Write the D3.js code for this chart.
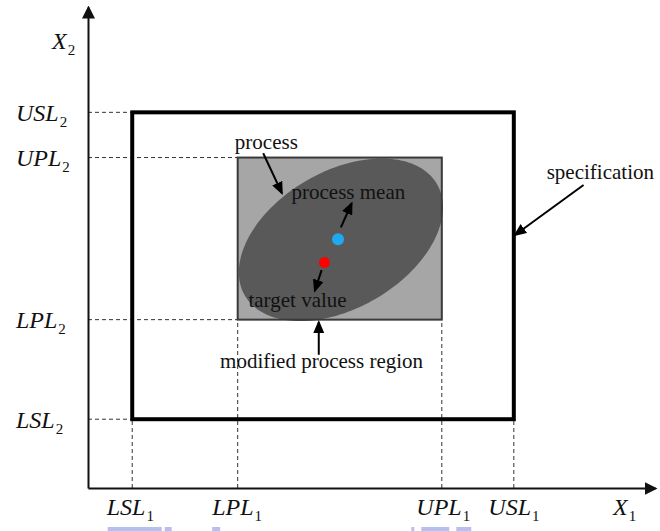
<!DOCTYPE html>
<html>
<head>
<meta charset="utf-8">
<script src="https://cdn.jsdelivr.net/npm/d3@7"></script>
<style>
  html, body { margin: 0; padding: 0; background: #fff; }
  svg { display: block; }
  svg text { font-family: "Liberation Serif", "DejaVu Serif", "Times New Roman", serif; }
</style>
</head>
<body>
<svg id="chart" width="660" height="531"></svg>
<script>
// Tolerance limits for the first quality characteristic X1
const x1Names = ["LSL", "LPL", "UPL", "USL"];
const x1Limits = [0.78, 2.64, 6.24, 7.51];
// Tolerance limits for the second quality characteristic X2
const x2Names = ["LSL", "LPL", "UPL", "USL"];
const x2Limits = [1.43, 3.50, 6.87, 7.81];

// Process contour (bivariate, correlated) and the two reference points
const processCenter = [4.46, 5.16];
const processSpread = [1.80, 1.69];
const processCorrelation = 0.40;
const processMean = [4.41, 5.17];
const targetValue = [4.17, 4.69];

// Annotations: text, baseline anchor, and pointer arrows (tail -> head)
const noteTexts = ["process", "process mean", "target value", "modified process region", "specification"];
const noteAnchors = [[2.59, 7.05], [3.59, 6.01], [2.83, 3.77], [2.33, 2.49], [8.09, 6.42]];
const pointerFrom = [[3.09, 6.96], [4.46, 5.42], [4.12, 4.53], [4.07, 2.77], [8.74, 6.30]];
const pointerTo   = [[3.42, 6.13], [4.65, 5.92], [4.00, 4.10], [4.07, 3.45], [7.53, 5.26]];

const svg = d3.select("#chart");
const x = d3.scaleLinear().domain([0, 10]).range([88, 655]);
const y = d3.scaleLinear().domain([0, 10]).range([488, 7]);
const serif = "Liberation Serif, DejaVu Serif, Times New Roman, serif";

// Arrowhead markers
const defs = svg.append("defs");
defs.append("marker")
  .attr("id", "axisHead").attr("markerUnits", "userSpaceOnUse")
  .attr("viewBox", "0 0 13 13").attr("refX", 11).attr("refY", 6.5)
  .attr("markerWidth", 13).attr("markerHeight", 13).attr("orient", "auto")
  .append("path").attr("d", "M0,0L13,6.5L0,13Z").attr("fill", "#111");
defs.append("marker")
  .attr("id", "pointerHead").attr("markerUnits", "userSpaceOnUse")
  .attr("viewBox", "0 0 13 11").attr("refX", 11).attr("refY", 5.5)
  .attr("markerWidth", 13).attr("markerHeight", 11).attr("orient", "auto")
  .append("path").attr("d", "M0,0L13,5.5L0,11Z").attr("fill", "#000");

// Dashed guides from the axes to the rectangles
const guides = svg.append("g")
  .attr("stroke", "#333").attr("stroke-width", 1).attr("stroke-dasharray", "4,3").attr("fill", "none");
x1Limits.forEach((v, i) => {
  const top = (i === 0 || i === 3) ? x2Limits[0] : x2Limits[1];
  guides.append("line").attr("x1", x(v)).attr("x2", x(v)).attr("y1", y(0)).attr("y2", y(top));
});
x2Limits.forEach((v, i) => {
  const right = (i === 0 || i === 3) ? x1Limits[0] : x1Limits[1];
  guides.append("line").attr("x1", x(0)).attr("x2", x(right)).attr("y1", y(v)).attr("y2", y(v));
});

// Modified process region (rectangle bounded by the process limits)
const procRect = {
  x: x(x1Limits[1]), y: y(x2Limits[2]),
  w: x(x1Limits[2]) - x(x1Limits[1]), h: y(x2Limits[1]) - y(x2Limits[2])
};
svg.append("rect")
  .attr("x", procRect.x).attr("y", procRect.y).attr("width", procRect.w).attr("height", procRect.h)
  .attr("fill", "#a6a6a6");

// Process contour ellipse
const rho = processCorrelation;
const contour = d3.range(0, 180).map(k => {
  const t = k / 180 * 2 * Math.PI;
  return [
    processCenter[0] + processSpread[0] * Math.cos(t),
    processCenter[1] + processSpread[1] * (rho * Math.cos(t) + Math.sqrt(1 - rho * rho) * Math.sin(t))
  ];
});
svg.append("path")
  .datum(contour)
  .attr("d", d3.line().x(d => x(d[0])).y(d => y(d[1])).curve(d3.curveLinearClosed))
  .attr("fill", "#595959");

svg.append("rect")
  .attr("x", procRect.x).attr("y", procRect.y).attr("width", procRect.w).attr("height", procRect.h)
  .attr("fill", "none").attr("stroke", "#3a3a3a").attr("stroke-width", 2);

// Specification rectangle
svg.append("rect")
  .attr("x", x(x1Limits[0])).attr("y", y(x2Limits[3]))
  .attr("width", x(x1Limits[3]) - x(x1Limits[0]))
  .attr("height", y(x2Limits[0]) - y(x2Limits[3]))
  .attr("fill", "none").attr("stroke", "#000").attr("stroke-width", 4);

// Axes with limit labels (italic symbol, upright subscript)
function limitLabel(sel, name, sub) {
  sel.append("tspan").text(name);
  sel.append("tspan").style("font-size", "15px").style("font-style", "normal")
    .attr("dx", 1).attr("dy", 6).text(sub);
}
function styleLabel(t) {
  return t.style("font-family", serif).style("font-style", "italic")
    .style("font-size", "24px").attr("fill", "#111");
}

// Faint highlight strokes sitting under some of the X1 labels
const highlightBits = [[[1, 54], [58, 7]], [[0, 8]], [[-5, 3], [5, 28], [40, 15]], []];

const gx = svg.append("g").attr("transform", `translate(0,${y(0)})`)
  .call(d3.axisBottom(x).tickValues(x1Limits).tickSize(0).tickSizeOuter(0).tickFormat(() => ""));
gx.attr("font-family", null);
gx.select(".domain").attr("stroke", "#111").attr("stroke-width", 2).attr("marker-end", "url(#axisHead)");
gx.selectAll(".tick text").remove();
gx.selectAll(".tick").each(function (d) {
  const i = x1Limits.indexOf(d);
  const tick = d3.select(this);
  highlightBits[i].forEach(([dx, w]) => {
    tick.append("rect").attr("x", -26 + dx).attr("y", 39).attr("width", w).attr("height", 4)
      .attr("fill", "#b4c1f0");
  });
  const t = styleLabel(tick.append("text")
    .attr("x", -26).attr("y", 27).attr("text-anchor", "start"));
  limitLabel(t, x1Names[i], "1");
});

const gy = svg.append("g").attr("transform", `translate(${x(0)},0)`)
  .call(d3.axisLeft(y).tickValues(x2Limits).tickSize(0).tickSizeOuter(0).tickFormat(() => ""));
gy.attr("font-family", null);
gy.select(".domain").attr("stroke", "#111").attr("stroke-width", 2).attr("marker-end", "url(#axisHead)");
gy.selectAll(".tick text").remove();
gy.selectAll(".tick").each(function (d) {
  const i = x2Limits.indexOf(d);
  const t = styleLabel(d3.select(this).append("text")
    .attr("x", -72).attr("y", 8).attr("text-anchor", "start"));
  limitLabel(t, x2Names[i], "2");
});

// Axis titles
const t1 = styleLabel(svg.append("text").attr("x", x(10) - 42).attr("y", y(0) + 27));
limitLabel(t1, "X", "1");
const t2 = styleLabel(svg.append("text").attr("x", x(0) - 36).attr("y", y(10) + 42));
limitLabel(t2, "X", "2");

// Process mean and target value
svg.append("circle").attr("cx", x(processMean[0])).attr("cy", y(processMean[1])).attr("r", 6).attr("fill", "#1eaaf0");
svg.append("circle").attr("cx", x(targetValue[0])).attr("cy", y(targetValue[1])).attr("r", 5.5).attr("fill", "#ff0000");

// Pointer arrows
svg.append("g").selectAll("line").data(pointerFrom).join("line")
  .attr("x1", d => x(d[0])).attr("y1", d => y(d[1]))
  .attr("x2", (d, i) => x(pointerTo[i][0])).attr("y2", (d, i) => y(pointerTo[i][1]))
  .attr("stroke", "#000").attr("stroke-width", 2).attr("marker-end", "url(#pointerHead)");

// Annotation texts
svg.append("g").selectAll("text").data(noteTexts).join("text")
  .attr("x", (d, i) => x(noteAnchors[i][0])).attr("y", (d, i) => y(noteAnchors[i][1]))
  .style("font-family", serif).style("font-size", "21px").attr("fill", "#111")
  .text(d => d);
</script>
</body>
</html>
